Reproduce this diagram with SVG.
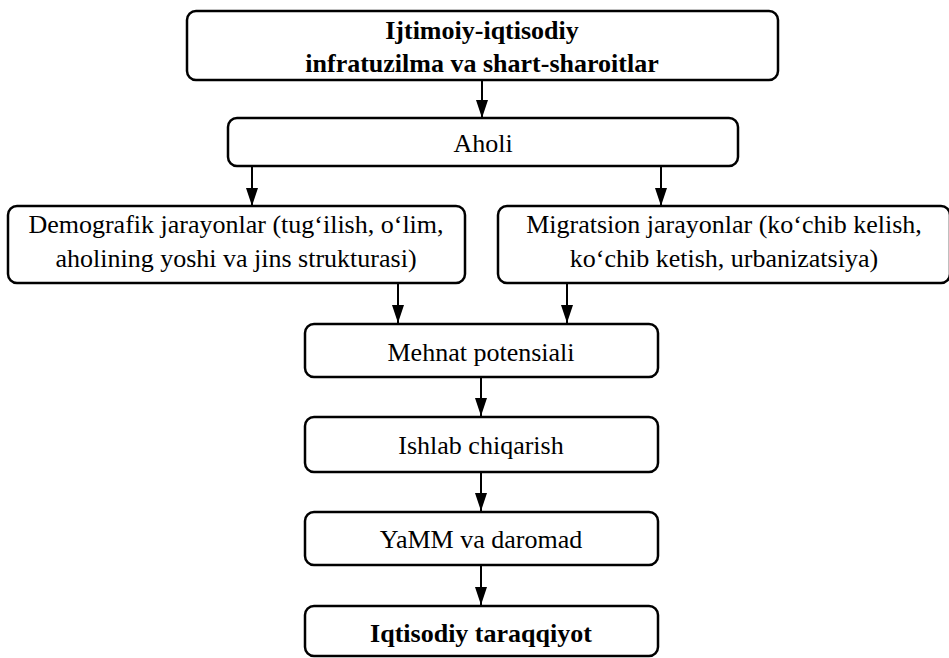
<svg xmlns="http://www.w3.org/2000/svg" width="949" height="658" viewBox="0 0 949 658">
<style>
.box{fill:#fff;stroke:#000;stroke-width:2.5}
.t{font-family:'Liberation Serif','Times New Roman',serif;font-size:26px;fill:#000;text-anchor:middle}
.b{font-weight:bold}
.c{stroke:#000;stroke-width:2;fill:none;marker-end:url(#ah)}
</style>
<defs>
<marker id="ah" viewBox="0 0 18 12" refX="18" refY="6" markerWidth="18" markerHeight="12" markerUnits="userSpaceOnUse" orient="auto">
<path d="M0,0 L18,6 L0,12 Z" fill="#000"/>
</marker>
</defs>
<rect width="949" height="658" fill="#fff"/>
<g id="connectors">
<line class="c" x1="482" y1="80" x2="482" y2="118"/>
<line class="c" x1="252" y1="166" x2="252" y2="206"/>
<line class="c" x1="661" y1="166" x2="661" y2="206"/>
<line class="c" x1="398" y1="283" x2="398" y2="323"/>
<line class="c" x1="567" y1="283" x2="567" y2="323"/>
<line class="c" x1="481" y1="377" x2="481" y2="416"/>
<line class="c" x1="481" y1="472" x2="481" y2="511"/>
<line class="c" x1="481" y1="565" x2="481" y2="605"/>
</g>
<g id="n1">
<rect class="box" x="187" y="11" width="591" height="69" rx="9"/>
<text class="t b" x="482" y="39">Ijtimoiy-iqtisodiy</text>
<text class="t b" x="482" y="72">infratuzilma va shart-sharoitlar</text>
</g>
<g id="n2">
<rect class="box" x="228" y="118" width="510" height="48" rx="9"/>
<text class="t" x="483" y="152">Aholi</text>
</g>
<g id="n3">
<rect class="box" x="8" y="206" width="457" height="77" rx="9"/>
<text class="t" x="236" y="233">Demografik jarayonlar (tug‘ilish, o‘lim,</text>
<text class="t" x="236" y="267">aholining yoshi va jins strukturasi)</text>
</g>
<g id="n4">
<rect class="box" x="498" y="206" width="452" height="77" rx="9"/>
<text class="t" x="724" y="233">Migratsion jarayonlar (ko‘chib kelish,</text>
<text class="t" x="724" y="267">ko‘chib ketish, urbanizatsiya)</text>
</g>
<g id="n5">
<rect class="box" x="305" y="324" width="353" height="53" rx="9"/>
<text class="t" x="481" y="361">Mehnat potensiali</text>
</g>
<g id="n6">
<rect class="box" x="305" y="417" width="353" height="55" rx="9"/>
<text class="t" x="481" y="454">Ishlab chiqarish</text>
</g>
<g id="n7">
<rect class="box" x="305" y="512" width="353" height="53" rx="9"/>
<text class="t" x="481" y="548">YaMM va daromad</text>
</g>
<g id="n8">
<rect class="box" x="305" y="606" width="353" height="50" rx="9"/>
<text class="t b" x="481" y="642">Iqtisodiy taraqqiyot</text>
</g>
</svg>
